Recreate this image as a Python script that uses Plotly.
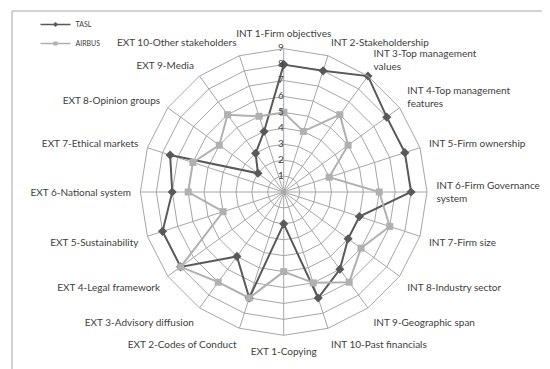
import plotly.graph_objects as go

categories = [
    "INT 1-Firm objectives", "INT 2-Stakeholdership", "INT 3-Top management<br>values",
    "INT 4-Top management<br>features", "INT 5-Firm ownership", "INT 6-Firm Governance<br>system",
    "INT 7-Firm size", "INT 8-Industry sector", "INT 9-Geographic span", "INT 10-Past financials",
    "EXT 1-Copying", "EXT 2-Codes of Conduct", "EXT 3-Advisory diffusion", "EXT 4-Legal framework",
    "EXT 5-Sustainability", "EXT 6-National system", "EXT 7-Ethical markets", "EXT 8-Opinion groups",
    "EXT 9-Media", "EXT 10-Other stakeholders",
]
tasl = [8, 8, 9, 8, 8, 8, 5, 5, 6, 7, 2, 7, 5, 8, 8, 7, 7.5, 2, 3, 4]
airbus = [5, 4, 6, 5, 3, 6, 7, 6, 7, 6, 5, 7, 7, 8, 4, 6, 6, 5, 6, 5]
radial_ticks = [0, 1, 2, 3, 4, 5, 6, 7, 8, 9]
radial_tick_labels = [str(v) for v in radial_ticks]

FONT = "Lato"
W, H = 550, 369
cx, cy, R = 275.7, 184.0, 143.3
DARK, LIGHT, GRID = "#595959", "#b0b0b0", "#a6a6a6"

fig = go.Figure()
fig.add_trace(go.Scatterpolar(
    r=tasl + tasl[:1], theta=categories + categories[:1], name="TASL",
    mode="lines+markers", showlegend=False,
    line=dict(color=DARK, width=2),
    marker=dict(symbol="diamond", size=7, color=DARK),
))
fig.add_trace(go.Scatterpolar(
    r=airbus + airbus[:1], theta=categories + categories[:1], name="AIRBUS",
    mode="lines+markers", showlegend=False,
    line=dict(color=LIGHT, width=2),
    marker=dict(symbol="square", size=7, color=LIGHT),
))
# radial tick labels, placed on the radial scale beside the first spoke
fig.add_trace(go.Scatterpolar(
    r=radial_ticks, theta=[categories[0]] * len(radial_ticks),
    text=radial_tick_labels, mode="text", textposition="middle left",
    textfont=dict(family=FONT, size=10, color="#404040"),
    showlegend=False, hoverinfo="skip", cliponaxis=False,
))
fig.add_trace(go.Scatterpolar(r=[None], theta=[categories[0]], name="TASL", mode="lines+markers",
                              line=dict(color=DARK, width=1.5),
                              marker=dict(symbol="diamond", size=4, color=DARK)))
fig.add_trace(go.Scatterpolar(r=[None], theta=[categories[0]], name="AIRBUS", mode="lines+markers",
                              line=dict(color=LIGHT, width=1.5),
                              marker=dict(symbol="square", size=4, color=LIGHT)))

fig.update_layout(
    width=W, height=H,
    margin=dict(l=0, r=0, t=0, b=0, autoexpand=False),
    paper_bgcolor="white",
    font=dict(family=FONT, size=10, color="#404040"),
    polar=dict(
        domain=dict(x=[(cx - R) / W, (cx + R) / W], y=[(H - cy - R) / H, (H - cy + R) / H]),
        bgcolor="white",
        gridshape="linear",
        angularaxis=dict(
            direction="clockwise", rotation=90,
            categoryorder="array", categoryarray=categories,
            showline=True, linecolor=GRID, linewidth=1,
            gridcolor=GRID, gridwidth=1,
            ticks="outside", ticklen=7, tickcolor="rgba(0,0,0,0)",
            tickfont=dict(family=FONT, size=10, color="#404040"),
        ),
        radialaxis=dict(
            range=[0, 9], tickvals=radial_ticks, angle=90,
            showline=False, ticks="", showticklabels=False,
            gridcolor=GRID, gridwidth=1,
        ),
    ),
    legend=dict(
        x=0.05, y=1 - 2 / H, xanchor="left", yanchor="top",
        font=dict(family=FONT, size=7, color="#404040"),
        bgcolor="rgba(0,0,0,0)", itemwidth=30,
    ),
    shapes=[dict(type="rect", xref="paper", yref="paper",
                 x0=4 / W, x1=546 / W, y0=1 - 362 / H, y1=1 - 3 / H,
                 line=dict(color=GRID, width=1), fillcolor="rgba(0,0,0,0)")],
)

fig.write_html("out.html")
